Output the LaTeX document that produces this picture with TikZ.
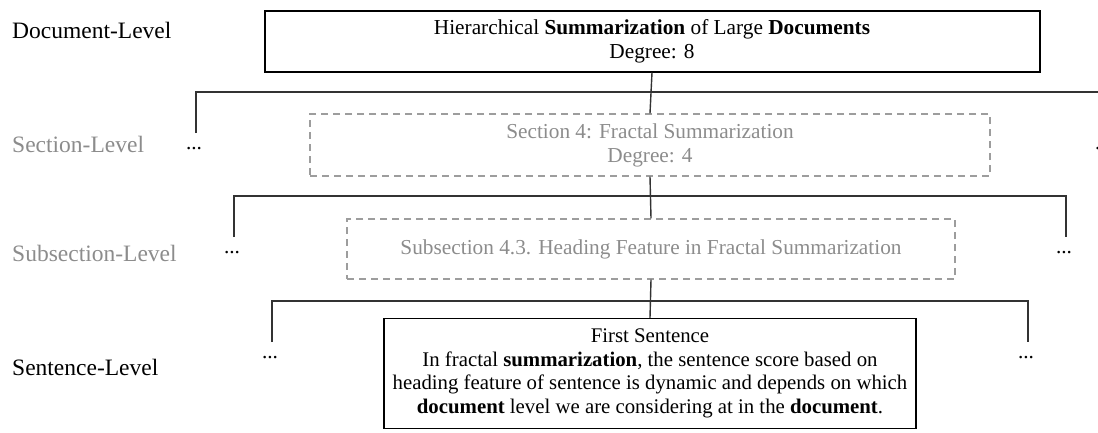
\documentclass[tikz,border=0pt]{standalone}
\usepackage{fontspec}
\setmainfont{Liberation Serif}
\usetikzlibrary{positioning}

\definecolor{lvlgray}{HTML}{8C8C8C}
\definecolor{linegray}{HTML}{333333}

\begin{document}
\begin{tikzpicture}[x=1pt, y=-1pt, font=\fontsize{21.3}{24}\selectfont,
	lvl/.style={anchor=west, inner sep=0pt, font=\fontsize{23.5}{26}\selectfont},
	solidbox/.style={draw=black, line width=1.3pt, align=center, inner sep=2pt},
	dashbox/.style={draw=lvlgray!85, dash pattern=on 7pt off 5pt, line width=1.3pt, text=lvlgray, align=center, inner sep=2pt},
	conn/.style={draw=linegray, line width=1.4pt},
	dotsnode/.style={inner sep=0pt}]
	\useasboundingbox (0,0) rectangle (1098,432);
	% level labels
	\node[lvl] (doclvl) at (12,30) {Document-Level};
	\node[lvl, text=lvlgray] (seclvl) at (12,144) {Section-Level};
	\node[lvl, text=lvlgray] (sublvl) at (12,253) {Subsection-Level};
	\node[lvl] (sentlvl) at (12,367) {Sentence-Level};
	% boxes
	\node[solidbox, line width=2pt, minimum width=775pt, minimum height=61pt] (docbox) at (652,41) {Hierarchical \textbf{Summarization} of Large \textbf{Documents}\\Degree: 8};
	\node[dashbox, minimum width=680pt, minimum height=62pt] (secbox) at (650,145) {Section 4: Fractal Summarization\\Degree: 4};
	\node[dashbox, minimum width=608pt, minimum height=60pt] (subbox) at (651,249) {Subsection 4.3. Heading Feature in Fractal Summarization};
	\node[solidbox, font=\fontsize{20.8}{23.5}\selectfont, minimum width=532pt, minimum height=110pt] (sentbox) at (650,373.5) {First Sentence\\In fractal \textbf{summarization}, the sentence score based on\\heading feature of sentence is dynamic and depends on which\\\textbf{document} level we are considering at in the \textbf{document}.};
	% bus ends
	\coordinate (bus1) at (650,92);
	\coordinate (bus2) at (650,196);
	\coordinate (bus3) at (650,301);
	\coordinate (secL) at (196,133);
	\coordinate (secR) at (1105,133);
	\coordinate (subL) at (234,237);
	\coordinate (subR) at (1066,237);
	\coordinate (sentL) at (272,342);
	\coordinate (sentR) at (1028,342);
	% dots
	\node[dotsnode, below=14pt of secL, xshift=-2pt] (secdotsL) {...};
	\node[dotsnode, below=14pt of secR, xshift=-2pt] (secdotsR) {...};
	\node[dotsnode, below=14pt of subL, xshift=-2pt] (subdotsL) {...};
	\node[dotsnode, below=14pt of subR, xshift=-2pt] (subdotsR) {...};
	\node[dotsnode, below=14pt of sentL, xshift=-2pt] (sentdotsL) {...};
	\node[dotsnode, below=14pt of sentR, xshift=-2pt] (sentdotsR) {...};
	% connectors
	\draw[conn] (docbox.south) -- (secbox.north);
	\draw[conn] (secbox.south) -- (subbox.north);
	\draw[conn] (subbox.south) -- (sentbox.north);
	\draw[conn] (secL) -- (secL |- bus1) -- (secR |- bus1) -- (secR);
	\draw[conn] (subL) -- (subL |- bus2) -- (subR |- bus2) -- (subR);
	\draw[conn] (sentL) -- (sentL |- bus3) -- (sentR |- bus3) -- (sentR);
\end{tikzpicture}
\end{document}
